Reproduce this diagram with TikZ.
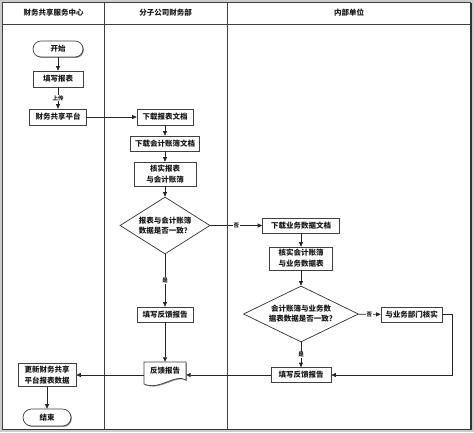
\documentclass[tikz,border=0pt]{standalone}
\usepackage{fontspec}
\setmainfont{Noto Sans CJK SC}
\usetikzlibrary{arrows.meta,shapes.geometric,shadows}
\begin{document}
\begin{tikzpicture}[x=1pt,y=-1pt,
  every node/.style={font=\fontsize{7.5}{11}\selectfont\bfseries, text=black!90},
  shad/.style={drop shadow={shadow xshift=0.9pt, shadow yshift=-0.9pt, fill=black!45, opacity=1}},
  box/.style={draw=black!75, line width=0.7pt, fill=white, inner sep=0pt, align=center, shad},
  term/.style={box, rounded corners=8pt},
  dec/.style={diamond, draw=black!80, line width=0.7pt, fill=white, inner sep=0pt, align=center, font=\fontsize{7.5}{10}\selectfont\bfseries},
  line/.style={draw=black!85, line width=0.7pt},
  arr/.style={line, -{Triangle[length=4.5pt,width=4pt]}},
  lbl/.style={fill=white, inner sep=0.6pt, font=\fontsize{5.5}{6}\selectfont\bfseries},
  head/.style={font=\fontsize{7.5}{9}\selectfont\bfseries},
  frame/.style={draw=black!75, line width=0.7pt}
]
\useasboundingbox (0,0) rectangle (474,432);
% frame and lanes
\fill[gray!40] (0,0) rectangle (474,432);
\fill[white] (2.5,2.5) rectangle (470.5,429);
\draw[frame] (2.5,2.5) rectangle (470.5,429);
\draw[black!80, line width=1.6pt] (2.5,429.6) -- (471.2,429.6) -- (471.2,2.5);
\draw[frame] (2.5,24) -- (470.5,24);
\draw[frame] (104,2.5) -- (104,429);
\draw[frame] (227,2.5) -- (227,429);
\node[head] (h1) at (53.5,13) {财务共享服务中心};
\node[head] (h2) at (165.5,13) {分子公司财务部};
\node[head] (h3) at (349,13) {内部单位};

% nodes
\node[term, minimum width=50pt, minimum height=16pt] (start) at (58,49) {开始};
\node[box, minimum width=50pt, minimum height=16pt] (fill1) at (58,79) {填写报表};
\node[box, minimum width=57pt, minimum height=16pt] (platform) at (58,117) {财务共享平台};
\node[box, minimum width=56pt, minimum height=16pt] (dl1) at (165,117) {下载报表文档};
\node[box, minimum width=69pt, minimum height=15pt] (dl2) at (165,143.5) {下载会计账簿文档};
\node[box, minimum width=62pt, minimum height=24pt] (check1) at (165,174) {核实报表\\与会计账簿};
\node[dec, aspect=1.58, minimum width=90pt, minimum height=57pt] (dec1) at (165,225.5) {报表与会计账簿\\数据是否一致？};
\node[box, minimum width=77pt, minimum height=15pt] (dl3) at (301,225.5) {下载业务数据文档};
\node[box, minimum width=63pt, minimum height=23pt] (check2) at (301,258.5) {核实会计账簿\\与业务数据表};
\node[dec, aspect=2.05, minimum width=115pt, minimum height=56pt] (dec2) at (301,314) {会计账簿与业务数\\据表数据是否一致?};
\node[box, minimum width=61pt, minimum height=15pt] (verify) at (411.5,314.5) {与业务部门核实};
\node[box, minimum width=60pt, minimum height=15pt] (fb2) at (301,375) {填写反馈报告};
\node[box, minimum width=56pt, minimum height=15pt] (fb1) at (165,314.5) {填写反馈报告};
\node[box, minimum width=58pt, minimum height=23pt] (update) at (47,375) {更新财务共享\\平台报表数据};
\node[term, minimum width=48pt, minimum height=17pt, rounded corners=8.5pt] (end) at (47,417.5) {结束};
% document shape
\path[draw=black!75, line width=0.7pt, fill=white, shad]
  (144,362) -- (186,362) -- (186,380)
  .. controls (175,373) and (160,391) .. (144,384) -- cycle;
\node[inner sep=0pt, minimum width=42pt, minimum height=18pt] (report) at (165,371) {反馈报告};

% connectors
\draw[arr] (start) -- (fill1);
\draw[arr] (fill1) -- node[lbl]{上传} (platform);
\draw[arr] (platform) -- (dl1);
\draw[arr] (dl1) -- (dl2);
\draw[arr] (dl2) -- (check1);
\draw[arr] (check1) -- (dec1);
\draw[arr] (dec1) -- node[lbl]{否} (dl3);
\draw[arr] (dec1) -- node[lbl]{是} (fb1);
\draw[arr] (dl3) -- (check2);
\draw[arr] (check2) -- (dec2);
\draw[arr] (dec2) -- node[lbl]{否} (verify);
\draw[arr] (dec2) -- node[lbl]{是} (fb2);
\draw[arr] (verify.east) -- ++(10,0) |- (fb2.east);
\draw[arr] (fb1) -- (report.north);
\draw[arr] (fb2.west) -- (fb2.west -| report.east);
\draw[arr] (fb2.west -| report.west) -- (update.east);
\draw[arr] (update) -- (end);
\end{tikzpicture}
\end{document}
